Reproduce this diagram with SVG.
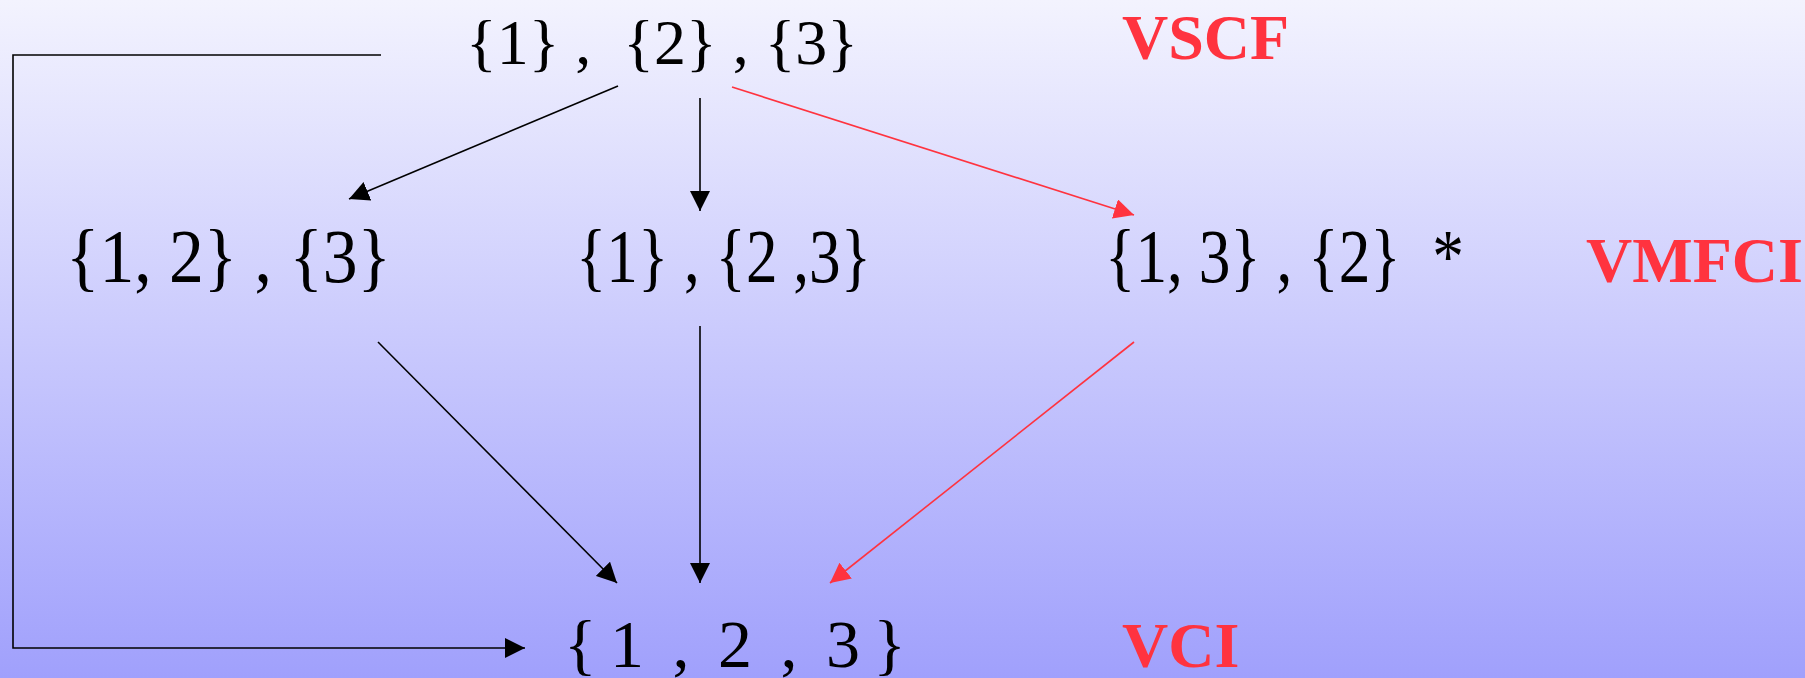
<svg xmlns="http://www.w3.org/2000/svg" width="1805" height="678" viewBox="0 0 1805 678">
<style>
.t{font-family:"Liberation Serif","Times New Roman",serif;font-size:64px;fill:#000;white-space:pre}
.t2{font-size:76px}
.t3{font-size:68px}
.lbl{font-family:"Liberation Serif","Times New Roman",serif;font-size:64px;font-weight:bold;fill:#ff333f}
.k{stroke:#000;stroke-width:1.6;fill:none}
.r{stroke:#ff333f;stroke-width:1.6;fill:none}
</style>
<defs>
<linearGradient id="bg" x1="0" y1="0" x2="0" y2="1">
<stop offset="0" stop-color="#f3f3fe"/>
<stop offset="1" stop-color="#a0a0fc"/>
</linearGradient>
<marker id="ak" markerUnits="userSpaceOnUse" markerWidth="20" markerHeight="20" refX="20" refY="10" orient="auto" viewBox="0 0 20 20">
<path d="M0,0 L20,10 L0,20 z" fill="#000"/>
</marker>
<marker id="ar" markerUnits="userSpaceOnUse" markerWidth="20" markerHeight="20" refX="20" refY="10" orient="auto" viewBox="0 0 20 20">
<path d="M0,0 L20,10 L0,20 z" fill="#ff333f"/>
</marker>
</defs>
<rect width="1805" height="678" fill="url(#bg)"/>
<g id="connectors">
<path class="k" d="M381,55 H13 V648 H525" marker-end="url(#ak)"/>
<line class="k" x1="618" y1="86" x2="349" y2="199" marker-end="url(#ak)"/>
<line class="k" x1="700" y1="98" x2="700" y2="211" marker-end="url(#ak)"/>
<line class="r" x1="732" y1="87" x2="1134" y2="215" marker-end="url(#ar)"/>
<line class="k" x1="378" y1="342" x2="617" y2="583" marker-end="url(#ak)"/>
<line class="k" x1="700" y1="326" x2="700" y2="583" marker-end="url(#ak)"/>
<line class="r" x1="1134" y1="342" x2="830" y2="583" marker-end="url(#ar)"/>
</g>
<g id="n-top"><text class="t" x="466" y="64" textLength="392" lengthAdjust="spacingAndGlyphs">{1} ,  {2} , {3}</text></g>
<g id="n-12-3"><text class="t t2" x="66" y="282" textLength="325" lengthAdjust="spacingAndGlyphs">{1, 2} , {3}</text></g>
<g id="n-1-23"><text class="t t2" x="576" y="282" textLength="295" lengthAdjust="spacingAndGlyphs">{1} , {2 ,3}</text></g>
<g id="n-13-2"><text class="t t2" x="1105" y="282" textLength="359" lengthAdjust="spacingAndGlyphs">{1, 3} , {2}  *</text></g>
<g id="n-bottom"><text class="t t3" x="564" y="667" textLength="342" lengthAdjust="spacing">{ 1  ,  2  ,  3 }</text></g>
<g id="l-vscf"><text class="lbl" x="1122" y="59">VSCF</text></g>
<g id="l-vmfci"><text class="lbl" x="1586" y="282">VMFCI</text></g>
<g id="l-vci"><text class="lbl" x="1122" y="667">VCI</text></g>
</svg>
